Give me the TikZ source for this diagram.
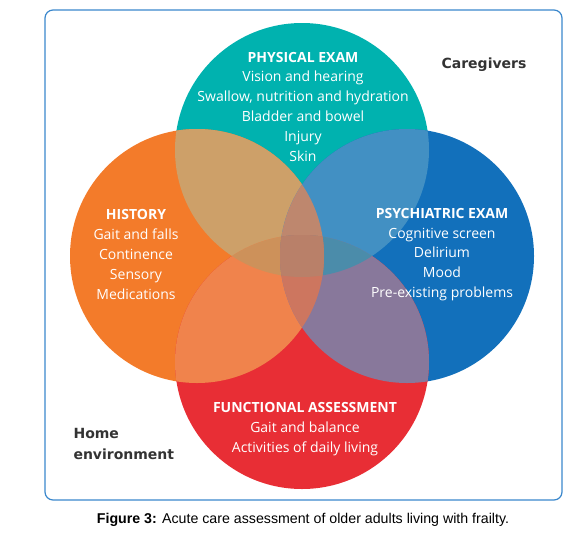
\documentclass[tikz,border=0pt]{standalone}
\usepackage{fontspec}
\setmainfont{Open Sans}
\newfontfamily\capfont{Liberation Sans}
\newfontfamily\sidefont{DejaVu Sans}
\definecolor{physc}{HTML}{00B2AF}
\definecolor{histc}{HTML}{F37B2A}
\definecolor{psyc}{HTML}{1270BB}
\definecolor{funcc}{HTML}{E82E35}
\definecolor{tlc}{HTML}{CDA069}
\definecolor{trc}{HTML}{4290C3}
\definecolor{lbc}{HTML}{F0834C}
\definecolor{rbc}{HTML}{88789B}
\definecolor{tlrc}{HTML}{BE876E}
\definecolor{tlbc}{HTML}{CD915A}
\definecolor{trbc}{HTML}{4B8CAA}
\definecolor{lrbc}{HTML}{CD765F}
\definecolor{allc}{HTML}{B98069}
\definecolor{boxc}{HTML}{3A87CC}
\definecolor{darkt}{HTML}{333333}
\newcommand\pTop{(302,150) circle (127pt)}
\newcommand\pLeft{(197,256) circle (127pt)}
\newcommand\pRight{(407,256) circle (127pt)}
\newcommand\pBot{(302,362) circle (127pt)}
\begin{document}
\begin{tikzpicture}[x=1pt,y=-1pt,
  lbl/.style={text=white,align=center,font=\fontsize{14}{19.8}\selectfont},
  side/.style={text=darkt,align=left,font=\sidefont\bfseries\fontsize{14}{21}\selectfont}]
\useasboundingbox (0,0) rectangle (586,541);
\draw[boxc,line width=1.2pt,rounded corners=8pt] (45,10) rectangle (562,500);
% circles
\fill[physc] \pTop;
\fill[histc] \pLeft;
\fill[psyc] \pRight;
\fill[funcc] \pBot;
% overlaps
\begin{scope}
\clip \pTop;
\fill[tlc] \pLeft;
\fill[trc] \pRight;
\end{scope}
\begin{scope}
\clip \pBot;
\fill[lbc] \pLeft;
\fill[rbc] \pRight;
\end{scope}
\begin{scope}
\clip \pTop; \clip \pLeft;
\fill[tlrc] \pRight;
\fill[tlbc] \pBot;
\end{scope}
\begin{scope}
\clip \pBot; \clip \pRight;
\fill[trbc] \pTop;
\fill[lrbc] \pLeft;
\end{scope}
\begin{scope}
\clip \pTop; \clip \pLeft; \clip \pRight;
\fill[allc] \pBot;
\end{scope}
% texts
\node[lbl] (phys) at (303,106.5) {\textbf{PHYSICAL EXAM}\\Vision and hearing\\Swallow, nutrition and hydration\\Bladder and bowel\\Injury\\Skin};
\node[lbl] (hist) at (136,254.5) {\textbf{HISTORY}\\Gait and falls\\Continence\\Sensory\\Medications};
\node[lbl] (psych) at (442,254.5) {\textbf{PSYCHIATRIC EXAM}\\Cognitive screen\\Delirium\\Mood\\Pre-existing problems};
\node[lbl] (func) at (305,429) {\textbf{FUNCTIONAL ASSESSMENT}\\Gait and balance\\Activities of daily living};
\node[side] (care) at (484,65) {Caregivers};
\node[side,anchor=west] (home) at (70,443.5) {Home\\environment};
\node[font=\capfont\fontsize{14.2}{16}\selectfont] (cap) at (303,520) {\textbf{Figure 3:} Acute care assessment of older adults living with frailty.};
\end{tikzpicture}
\end{document}
